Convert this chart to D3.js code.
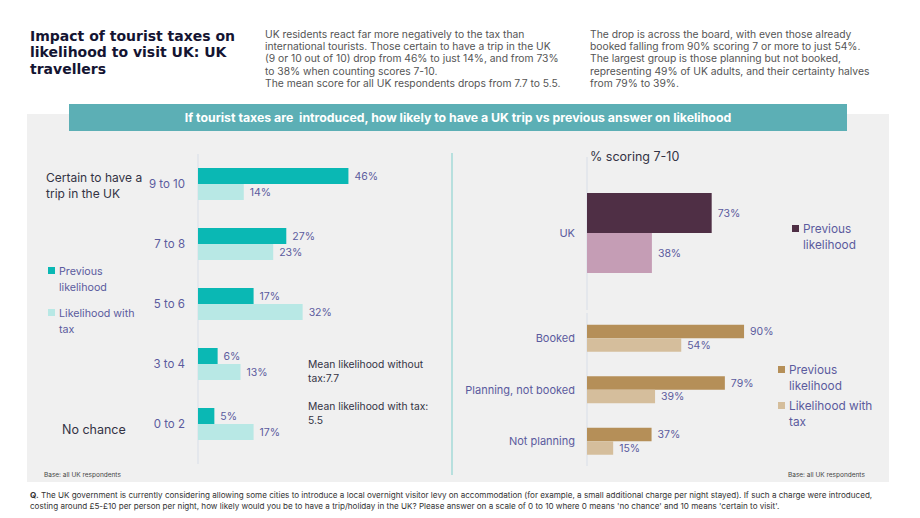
<!DOCTYPE html>
<html>
<head>
<meta charset="utf-8">
<script src="https://cdn.jsdelivr.net/npm/d3@7"></script>
<style>
  body { margin: 0; background: #fff; }
  svg { font-family: "Inter", "Open Sans", sans-serif; }
</style>
</head>
<body>
<div id="chart"></div>
<script>
// data
var scoreBands = ["9 to 10", "7 to 8", "5 to 6", "3 to 4", "0 to 2"];
var scorePrevious = [46, 27, 17, 6, 5];
var scoreWithTax = [14, 23, 32, 13, 17];

var ukCats = ["UK"];
var ukPrevious = [73];
var ukWithTax = [38];

var stageCats = ["Booked", "Planning, not booked", "Not planning"];
var stagePrevious = [90, 79, 37];
var stageWithTax = [54, 39, 15];

var seriesNames = ["Previous likelihood", "Likelihood with tax"];

var W = 920, H = 518;
var labelCol = "#5b5b9e";

var svg = d3.select("#chart").append("svg")
  .attr("width", W).attr("height", H);

// title + intro text
var title = ["Impact of tourist taxes on", "likelihood to visit UK: UK", "travellers"];
svg.append("g").selectAll("text").data(title).enter().append("text")
  .attr("x", 30).attr("y", function(d, i) { return 40.5 + i * 16.7; })
  .style("font-family", "'DejaVu Sans', sans-serif")
  .style("font-size", "14px").style("font-weight", "700").style("fill", "#141432")
  .text(function(d) { return d; });

var para1 = ["UK residents react far more negatively to the tax than",
  "international tourists. Those certain to have a trip in the UK",
  "(9 or 10 out of 10) drop from 46% to just 14%, and from 73%",
  "to 38% when counting scores 7-10.",
  "The mean score for all UK respondents drops from 7.7 to 5.5."];
var para2 = ["The drop is across the board, with even those already",
  "booked falling from 90% scoring 7 or more to just 54%.",
  "The largest group is those planning but not booked,",
  "representing 49% of UK adults, and their certainty halves",
  "from 79% to 39%."];
function para(lines, x) {
  svg.append("g").selectAll("text").data(lines).enter().append("text")
    .attr("x", x).attr("y", function(d, i) { return 38 + i * 12.2; })
    .style("font-size", "10.3px").style("fill", "#555")
    .text(function(d) { return d; });
}
para(para1, 265);
para(para2, 590);

// grey panel + header bar
svg.append("rect").attr("x", 27).attr("y", 114).attr("width", 862).attr("height", 368)
  .style("fill", "#f0f0f0");
svg.append("rect").attr("x", 69).attr("y", 104).attr("width", 778).attr("height", 27)
  .style("fill", "#5cafb5");
svg.append("text").attr("x", 458).attr("y", 122).attr("text-anchor", "middle")
  .style("font-size", "12.3px").style("font-weight", "700").style("fill", "#fff")
  .style("white-space", "pre")
  .text("If tourist taxes are  introduced, how likely to have a UK trip vs previous answer on likelihood");

// divider
svg.append("line").attr("x1", 452).attr("x2", 452).attr("y1", 153).attr("y2", 475)
  .style("stroke", "#7fcfcc").style("stroke-width", 1);

// ---------- left chart ----------
var xL = d3.scaleLinear().domain([0, 100]).range([198, 525]);
var yL = d3.scaleBand().domain(scoreBands).range([154, 454]);
var sub = d3.scaleBand().domain([0, 1]).range([-16, 16]);
var leftCols = ["#0ab8b4", "#b8e8e5"];

svg.append("line").attr("x1", xL(0)).attr("x2", xL(0)).attr("y1", 154).attr("y2", 464)
  .style("stroke", "#d8dee8");

var left = svg.append("g");
scoreBands.forEach(function(c, i) {
  var cy = yL(c) + yL.bandwidth() / 2;
  [scorePrevious[i], scoreWithTax[i]].forEach(function(v, s) {
    left.append("rect").attr("x", xL(0)).attr("y", cy + sub(s))
      .attr("width", xL(v) - xL(0)).attr("height", sub.bandwidth())
      .style("fill", leftCols[s]);
    left.append("text").attr("x", xL(v) + 6).attr("y", cy + sub(s) + sub.bandwidth() / 2)
      .attr("dy", "0.35em").style("font-size", "10.5px").style("fill", labelCol)
      .text(v + "%");
  });
  left.append("text").attr("x", 185).attr("y", cy).attr("dy", "0.35em")
    .attr("text-anchor", "end").style("font-size", "11.5px").style("fill", labelCol)
    .text(c);
});

svg.append("text").attr("x", 46).attr("y", 182).style("font-size", "12px").style("fill", "#333344")
  .text("Certain to have a");
svg.append("text").attr("x", 46).attr("y", 198).style("font-size", "12px").style("fill", "#333344")
  .text("trip in the UK");
svg.append("text").attr("x", 62).attr("y", 434).style("font-size", "12.5px").style("fill", "#333344")
  .text("No chance");

function legend(g, x, y, cols, lines, gap, size) {
  cols.forEach(function(col, s) {
    var yy = y + s * gap;
    g.append("rect").attr("x", x).attr("y", yy - 4).attr("width", 7).attr("height", 7)
      .style("fill", col);
    lines[s].forEach(function(t, k) {
      g.append("text").attr("x", x + 11).attr("y", yy + k * 16).attr("dy", "0.35em")
        .style("font-size", size).style("fill", labelCol).text(t);
    });
  });
}
legend(svg.append("g"), 48, 271, leftCols,
  [["Previous", "likelihood"], ["Likelihood with", "tax"]], 42, "10.7px");

var means = [["Mean likelihood without", "tax:7.7"], ["Mean likelihood with tax:", "5.5"]];
means.forEach(function(m, i) {
  m.forEach(function(t, k) {
    svg.append("text").attr("x", 308).attr("y", 368 + i * 42 + k * 14)
      .style("font-size", "10.3px").style("fill", "#333344").text(t);
  });
});

svg.append("text").attr("x", 44).attr("y", 477).style("font-size", "6.5px").style("fill", "#444")
  .text("Base: all UK respondents");

// ---------- right chart ----------
var xT = d3.scaleLinear().domain([0, 100]).range([587, 757.8]);
var xB = d3.scaleLinear().domain([0, 100]).range([587, 761.5]);
var yT = d3.scaleBand().domain(ukCats).range([173, 293]);
var yB = d3.scaleBand().domain(stageCats).range([312.5, 467]);
var subT = d3.scaleBand().domain([0, 1]).range([-40, 40]);
var subB = d3.scaleBand().domain([0, 1]).range([-13.5, 13.5]);
var topCols = ["#4f2f45", "#c59db5"];
var botCols = ["#b58f58", "#d5be9c"];

svg.append("text").attr("x", 590).attr("y", 161).style("font-size", "12.5px").style("fill", "#333344")
  .text("% scoring 7-10");
svg.append("line").attr("x1", 587).attr("x2", 587).attr("y1", 157).attr("y2", 310)
  .style("stroke", "#d8dee8");
svg.append("line").attr("x1", 587).attr("x2", 587).attr("y1", 313).attr("y2", 466)
  .style("stroke", "#d8dee8");

function rightGroup(cats, prev, tax, x, y, sb, cols, labelSize) {
  var g = svg.append("g");
  cats.forEach(function(c, i) {
    var cy = y(c) + y.bandwidth() / 2;
    [prev[i], tax[i]].forEach(function(v, s) {
      g.append("rect").attr("x", x(0)).attr("y", cy + sb(s))
        .attr("width", x(v) - x(0)).attr("height", sb.bandwidth())
        .style("fill", cols[s]);
      g.append("text").attr("x", x(v) + 6).attr("y", cy + sb(s) + sb.bandwidth() / 2)
        .attr("dy", "0.35em").style("font-size", "10.5px").style("fill", labelCol)
        .text(v + "%");
    });
    g.append("text").attr("x", 575).attr("y", cy).attr("dy", "0.35em")
      .attr("text-anchor", "end").style("font-size", labelSize).style("fill", labelCol)
      .text(c);
  });
}
rightGroup(ukCats, ukPrevious, ukWithTax, xT, yT, subT, topCols, "11px");
rightGroup(stageCats, stagePrevious, stageWithTax, xB, yB, subB, botCols, "11px");

legend(svg.append("g"), 792, 229, [topCols[0]], [["Previous", "likelihood"]], 0, "11.8px");
legend(svg.append("g"), 778, 370, botCols,
  [["Previous", "likelihood"], ["Likelihood with", "tax"]], 36, "11.8px");

svg.append("text").attr("x", 788).attr("y", 477).style("font-size", "6.5px").style("fill", "#444")
  .text("Base: all UK respondents");

// footer question
var q = [["Q.", " The UK government is currently considering allowing some cities to introduce a local overnight visitor levy on accommodation (for example, a small additional charge per night stayed). If such a charge were introduced,"],
  ["", "costing around £5-£10 per person per night, how likely would you be to have a trip/holiday in the UK? Please answer on a scale of 0 to 10 where 0 means 'no chance' and 10 means 'certain to visit'."]];
q.forEach(function(l, i) {
  var t = svg.append("text").attr("x", 30).attr("y", 498 + i * 11)
    .style("font-size", "8.1px").style("fill", "#333");
  if (l[0]) t.append("tspan").style("font-weight", "700").text(l[0]);
  t.append("tspan").text(l[1]);
});
</script>
</body>
</html>
